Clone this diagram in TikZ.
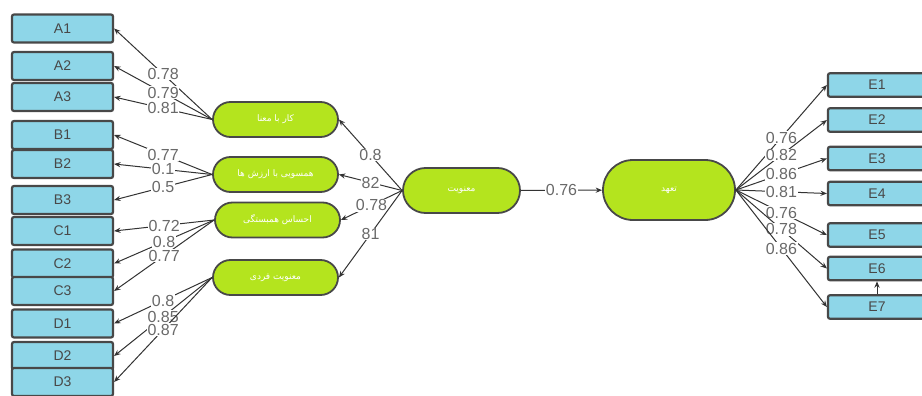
\documentclass[tikz,border=0pt]{standalone}
\usepackage{fontspec}
\setmainfont{Liberation Sans}
\newfontfamily\farsi[Script=Arabic]{DejaVu Sans}
\TeXXeTstate=1
\usetikzlibrary{arrows.meta}

\definecolor{itemblue}{RGB}{142,214,232}
\definecolor{factgreen}{RGB}{180,228,30}
\definecolor{edgegray}{RGB}{72,72,72}
\definecolor{numgray}{RGB}{105,105,105}

\tikzset{
    item/.style={draw=edgegray, line width=1.1pt, fill=itemblue, rounded corners=1pt,
                 minimum width=50.5pt, minimum height=14pt, inner sep=0pt,
                 font=\fontsize{7}{7}\selectfont, text=edgegray},
    itemr/.style={item, minimum width=49pt, minimum height=11.75pt},
    factor/.style={draw=edgegray, line width=0.9pt, fill=factgreen, rounded corners=8.75pt,
                   minimum width=62.5pt, minimum height=17.5pt, inner sep=0pt,
                   font=\farsi\fontsize{4.5}{5}\selectfont, text=white},
    load/.style={draw=black!80, line width=0.5pt, -{Stealth[length=3.2pt,width=2.6pt]}},
    coef/.style={fill=white, inner sep=0.3pt, font=\fontsize{8}{8}\selectfont, text=numgray}
}

\begin{document}
\begin{tikzpicture}[x=0.5pt,y=-0.5pt]
    \useasboundingbox (0,0) rectangle (922,396);

    % observed items
    \foreach \n/\y in {A1/28.5, A2/66, A3/97, B1/135, B2/164, B3/200, C1/231,
                       C2/263.5, C3/291, D1/323.5, D2/356, D3/382}
        \node[item] (\n) at (62.5,\y) {\n};

    \foreach \n/\y in {E1/85, E2/120, E3/158.5, E4/193.5, E5/235, E6/268.5, E7/307}
        \node[itemr] (\n) at (877,\y) {\n};

    % latent factors
    \node[factor] (kar)    at (275.5,119.5) {\beginR کار با معنا\endR};
    \node[factor] (hamsu)  at (275.5,174.5) {\beginR همسویی با ارزش ها\endR};
    \node[factor] (ehsas)  at (277.5,220)   {\beginR احساس همبستگی\endR};
    \node[factor] (fardi)  at (275.5,277.5) {\beginR معنویت فردی\endR};
    \node[factor, minimum width=58.5pt, minimum height=22.5pt, rounded corners=11.25pt]
        (manavi) at (461.5,190.5) {\beginR معنویت\endR};
    \node[factor, minimum width=66pt, minimum height=30pt, rounded corners=15pt]
        (tahod) at (669,190) {\beginR تعهد\endR};

    % loadings
    \foreach \f/\i/\v in {kar/A1/0.78, kar/A2/0.79, kar/A3/0.81,
                          hamsu/B1/0.77, hamsu/B2/0.1, hamsu/B3/0.5,
                          ehsas/C1/0.72, ehsas/C2/0.8, ehsas/C3/0.77,
                          fardi/D1/0.8, fardi/D2/0.85, fardi/D3/0.87}
        \draw[load] (\f.west) -- node[coef] {\v} (\i.east);

    \foreach \f/\v in {kar/0.8, hamsu/82, ehsas/0.78, fardi/81}
        \draw[load] (manavi.west) -- node[coef] {\v} (\f.east);

    \draw[load] (manavi) -- node[coef] {0.76} (tahod);

    \foreach \i/\v in {E1/0.76, E2/0.82, E3/0.86, E4/0.81, E5/0.76, E6/0.78, E7/0.86}
        \draw[load] (tahod.east) -- node[coef] {\v} (\i.west);

    \draw[load] (E7) -- (E6);
\end{tikzpicture}
\end{document}
